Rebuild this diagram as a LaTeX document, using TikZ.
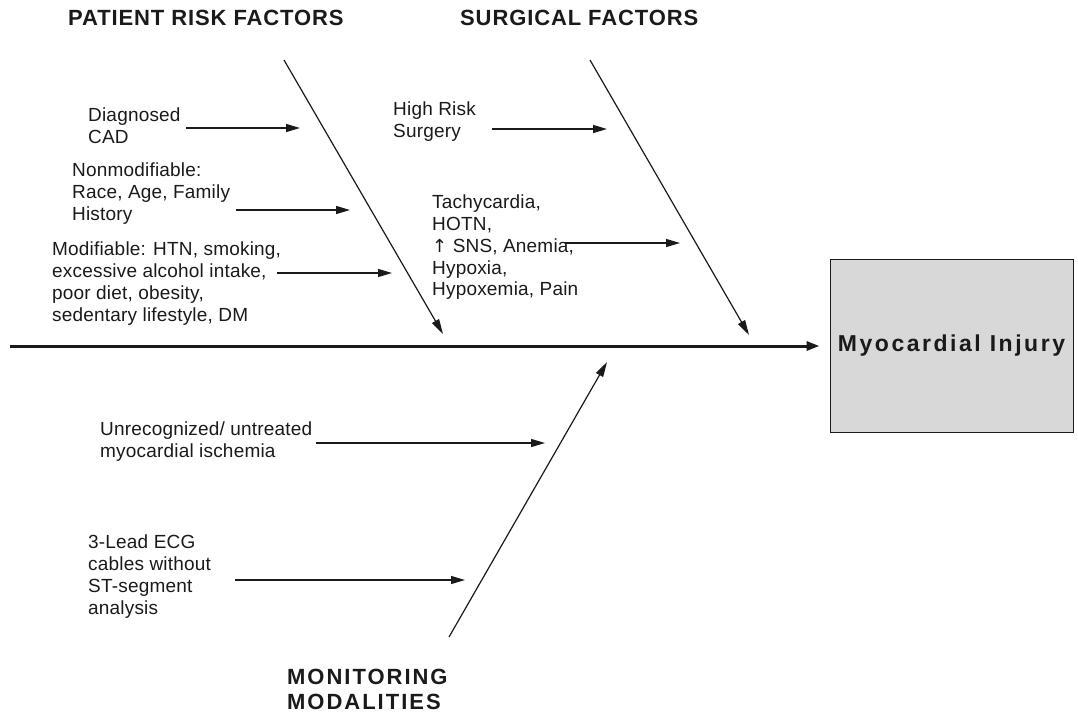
\documentclass[tikz,border=0pt]{standalone}
\usepackage{fontspec}
\setmainfont{Liberation Sans}[LetterSpace=1.0]
\newfontfamily\headfont{Liberation Sans}[LetterSpace=4.0]
\newfontfamily\widefont{Liberation Sans}[LetterSpace=9.0]
\newfontfamily\boxfont{Liberation Sans}[LetterSpace=11.0]
\newfontfamily\symfont{DejaVu Sans}
\usetikzlibrary{arrows.meta}
\definecolor{boxgray}{HTML}{D8D8D8}
\definecolor{ink}{HTML}{1A1A1A}
\begin{document}
\begin{tikzpicture}[x=1pt,y=-1pt,
  lbl/.style={anchor=north west,inner sep=0pt,align=left,text=ink,font=\fontsize{19}{21.7}\selectfont},
  head/.style={anchor=north west,inner sep=0pt,align=left,text=ink,font=\headfont\bfseries\fontsize{22}{25}\selectfont},
  arr/.style={draw=ink,line width=1.3pt,-{Triangle[length=14pt,width=8pt]}},
  bone/.style={draw=ink,line width=1.2pt,-{Triangle[length=15pt,width=8pt]}},
  spine/.style={draw=ink,line width=3pt,-{Triangle[length=13pt,width=9pt]}}]
\useasboundingbox (0,0) rectangle (1078,715);
% titles
\node[head] (t1) at (68,10) {PATIENT RISK FACTORS};
\node[head] (t2) at (460,10) {SURGICAL FACTORS};
\node[head,font=\widefont\bfseries\fontsize{22}{25}\selectfont] (t3) at (287,669) {MONITORING\\MODALITIES};
% effect box
\node[draw=ink,line width=1pt,fill=boxgray,minimum width=243pt,minimum height=173pt,inner sep=0pt,
  font=\boxfont\bfseries\fontsize{23}{26}\selectfont,text=ink] (box) at (951.5,346) {Myocardial Injury};
% spine
\coordinate (sp0) at (10,346);
\draw[spine] (sp0) -- ([xshift=-10pt]box.west);
% bones
\coordinate (b1s) at (284,60);  \coordinate (b1e) at (443,334);
\coordinate (b2s) at (590,60);  \coordinate (b2e) at (749,335);
\coordinate (b3s) at (449,637); \coordinate (b3e) at (607,362);
\draw[bone] (b1s) -- (b1e);
\draw[bone] (b2s) -- (b2e);
\draw[bone] (b3s) -- (b3e);
% causes
\node[lbl] (c1) at (88,108) {Diagnosed\\CAD};
\node[lbl] (c2) at (72,163) {Nonmodifiable:\\Race, Age, Family\\History};
\node[lbl] (c3) at (52,242) {Modifiable: HTN, smoking,\\excessive alcohol intake,\\poor diet, obesity,\\sedentary lifestyle, DM};
\node[lbl] (c4) at (393,102) {High Risk\\Surgery};
\node[lbl] (c5) at (432,195) {Tachycardia,\\HOTN,\\{\symfont\fontsize{18}{21.7}\selectfont ↑} SNS, Anemia,\\Hypoxia,\\Hypoxemia, Pain};
\node[lbl] (c6) at (100,422) {Unrecognized/ untreated\\myocardial ischemia};
\node[lbl] (c7) at (88,535) {3-Lead ECG\\cables without\\ST-segment\\analysis};
% cause arrows
\coordinate (a1s) at (186,128); \coordinate (a1e) at (300,128);
\coordinate (a2s) at (236,210); \coordinate (a2e) at (350,210);
\coordinate (a3s) at (277,273); \coordinate (a3e) at (392,273);
\coordinate (a4s) at (492,129); \coordinate (a4e) at (607,129);
\coordinate (a5s) at (565,243); \coordinate (a5e) at (680,243);
\coordinate (a6s) at (316,443); \coordinate (a6e) at (545,443);
\coordinate (a7s) at (235,580); \coordinate (a7e) at (465,580);
\foreach \i in {1,...,7} {\draw[arr] (a\i s) -- (a\i e);}
\end{tikzpicture}
\end{document}
